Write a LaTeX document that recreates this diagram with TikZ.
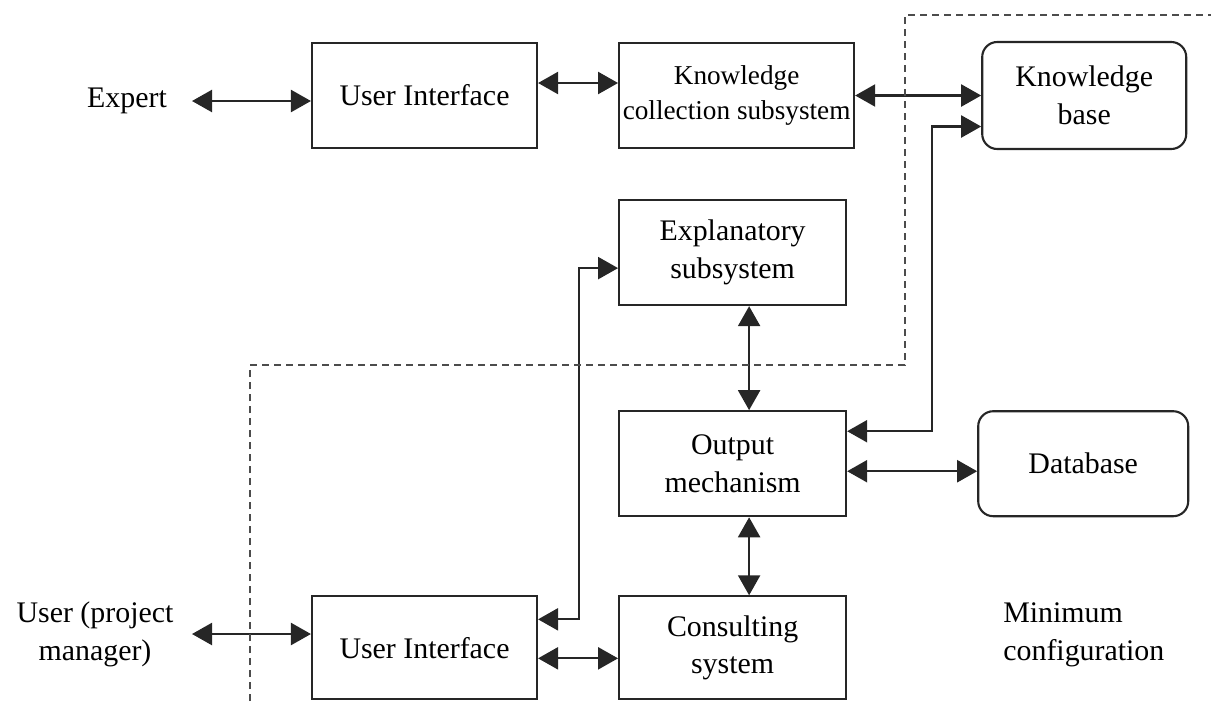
\documentclass[tikz,border=0pt]{standalone}
\usepackage{fontspec}
\setmainfont{Liberation Serif}
\usepackage{tikz}
\usetikzlibrary{positioning}
\usetikzlibrary{arrows.meta}

\begin{document}
\begin{tikzpicture}
    [boxPlain/.style={rectangle, draw=black!85, line width=1.2pt, minimum width=4.5cm, minimum height=2.1cm, align=center, inner sep=0pt},
     boxRound/.style={boxPlain, rounded corners=0.3cm},
     textLabel/.style={align=center, inner sep=0pt},
     link/.style={<->, draw=black!85, line width=1.3pt},
     border/.style={draw=black!70, line width=1.1pt, dash pattern=on 0.14cm off 0.1cm},
     >={Triangle[length=0.4cm, width=0.44cm]},
     font=\fontsize{17}{21.5}\selectfont
    ]

    \useasboundingbox (0,0) rectangle (24.22,-14.02);

    \node[boxPlain] (uiTop) at (8.49,-1.91) {User Interface};
    \node[boxPlain, minimum width=4.7cm, font=\fontsize{15.5}{20}\selectfont] (kcsBox) [right=1.6cm of uiTop] {Knowledge\\collection subsystem};
    \node[boxRound, minimum width=4.08cm, minimum height=2.14cm] (kbBox) [right=2.52cm of kcsBox] {Knowledge\\base};
    \node[boxPlain, minimum width=4.54cm] (explBox) [below right=1.0cm and 0cm of kcsBox.south west] {Explanatory\\subsystem};
    \node[boxPlain, minimum width=4.54cm] (outBox) [below=2.08cm of explBox] {Output\\mechanism};
    \node[boxRound, minimum width=4.2cm] (dbBox) [right=2.6cm of outBox] {Database};
    \node[boxPlain, minimum width=4.54cm, minimum height=2.06cm] (consBox) [below=1.56cm of outBox] {Consulting\\system};
    \node[boxPlain, minimum height=2.06cm] (uiBot) [left=1.6cm of consBox] {User Interface};

    \node[textLabel] (expert) at (2.54,-2.02) {Expert};
    \node[textLabel] (user) at (1.9,-12.68) {User (project\\manager)};
    \node[textLabel, align=left, anchor=west] (minConf) at (20.06,-12.7) {Minimum\\configuration};

    % expert side
    \draw[link] (3.84,-2.02) -- (uiTop.west |- expert);
    \draw[link] ([yshift=0.25cm]uiTop.east) -- ([yshift=0.25cm]kcsBox.west);
    \draw[link] (kcsBox.east) -- (kcsBox.east -| kbBox.west);

    % output mechanism
    \draw[link] ([yshift=0.65cm]outBox.east) -- ++(1.7,0) |- ([yshift=-0.62cm]kbBox.west);
    \draw[link] ([xshift=0.33cm]explBox.south) -- ([xshift=0.33cm]outBox.north);
    \draw[link] ([yshift=-0.15cm]outBox.east) -- ([yshift=-0.15cm]dbBox.west);
    \draw[link] ([xshift=0.33cm]outBox.south) -- ([xshift=0.33cm]consBox.north);

    % user side
    \draw[link] ([yshift=-0.21cm]uiBot.east) -- ([yshift=-0.21cm]consBox.west);
    \draw[link] ([yshift=0.57cm]uiBot.east) -- ++(0.82,0) |- ([yshift=-0.31cm]explBox.west);
    \draw[link] (3.84,-12.68) -- (uiBot.west |- user);

    % boundary of the minimum configuration
    \draw[border] (5.0,-14.02) -- (5.0,-7.3) -- (18.1,-7.3) -- (18.1,-0.3) -- (24.22,-0.3);

\end{tikzpicture}
\end{document}
